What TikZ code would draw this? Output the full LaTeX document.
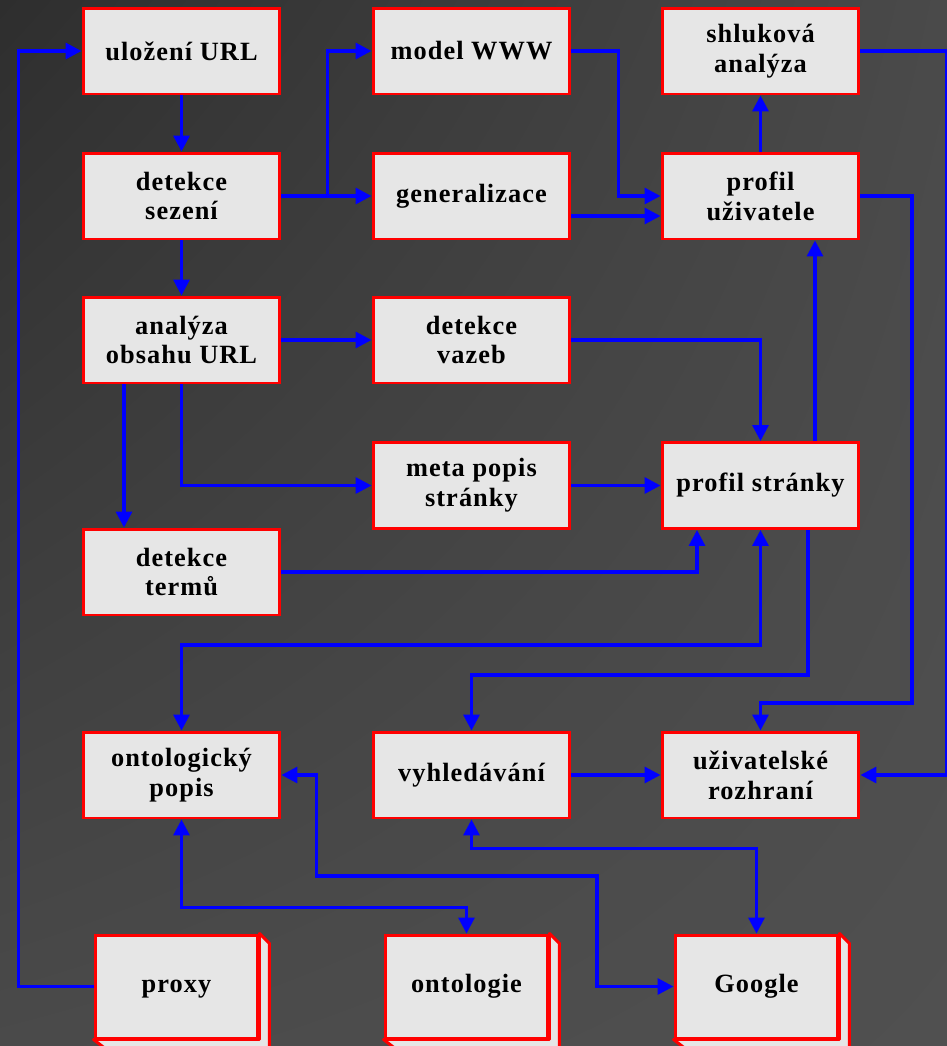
\documentclass[tikz,border=0pt]{standalone}
\usepackage{fontspec}
\setmainfont{Liberation Serif}[LetterSpace=4]
\usetikzlibrary{arrows.meta, positioning, calc, shadings}
\definecolor{boxgray}{RGB}{230,230,230}
\definecolor{bgtl}{RGB}{46,46,46}
\definecolor{bgtr}{RGB}{74,74,74}
\definecolor{bgbl}{RGB}{74,74,74}
\definecolor{bgbr}{RGB}{80,80,80}
\definecolor{linkblue}{RGB}{0,0,255}

\begin{document}
\begin{tikzpicture}[x=0.02cm, y=-0.02cm]
        \tikzstyle{box} = [rectangle, draw=red, line width=1.7pt, fill=boxgray, minimum width=3.94cm, minimum height=1.72cm, align=center, font=\fontsize{15}{17}\selectfont\bfseries]
        \tikzstyle{cube} = [box, minimum width=3.26cm, minimum height=2.06cm, text height=1.6ex, text depth=0pt]
        \tikzstyle{link} = [draw=linkblue, line width=1.8pt, -{Triangle[length=9pt,width=9pt]}]
        \tikzstyle{dlink} = [link, {Triangle[length=9pt,width=9pt]}-{Triangle[length=9pt,width=9pt]}]

        \useasboundingbox (0,0) rectangle (947,1046);
        \shade[upper left=bgtl, upper right=bgtr, lower left=bgbl, lower right=bgbr] (0,0) rectangle (947,1046);

        \node[box] (url) at (181.5,51) {uložení URL};
        \node[box] (model) at (471.5,51) {model WWW};
        \node[box] (shluk) at (760.5,51) {shluková\\analýza};

        \node[box] (sezeni) at (181.5,196) {detekce\\sezení};
        \node[box] (general) at (471.5,196) {generalizace};
        \node[box] (profilu) at (760.5,196) {profil\\uživatele};

        \node[box] (analyza) at (181.5,340) {analýza\\obsahu URL};
        \node[box] (vazby) at (471.5,340) {detekce\\vazeb};

        \node[box] (meta) at (471.5,485.5) {meta popis\\stránky};
        \node[box] (profils) at (760.5,485.5) {profil stránky};

        \node[box] (termy) at (181.5,572) {detekce\\termů};

        \node[box] (ontpopis) at (181.5,775) {ontologický\\popis};
        \node[box] (hledani) at (471.5,775) {vyhledávání};
        \node[box] (rozhrani) at (760.5,775) {uživatelské\\rozhraní};

        \node[cube] (proxy) at (176.5,986.5) {proxy};
        \node[cube] (ontologie) at (466.5,986.5) {ontologie};
        \node[cube] (google) at (756.5,986.5) {Google};

        \foreach \n in {proxy,ontologie,google}{
            \draw[draw=red, line width=1.7pt, fill=boxgray, line join=round]
                (\n.north east) -- ++(10,10) -- ($(\n.south east)+(10,10)$) -- ++(-163,0)
                -- (\n.south west) -- (\n.south east) -- cycle;
        }

        \draw[link] (proxy.west) -- ++(-75,0) |- (url.west);
        \draw[link] (url) -- (sezeni);
        \draw[link] (sezeni) -- (general);
        \draw[link] (sezeni.east) -- ++(46,0) |- (model.west);
        \draw[link] (sezeni) -- (analyza);
        \draw[link] (model.east) -- ++(47,0) |- (profilu.west);
        \draw[link] ([yshift=-0.4cm]general.east) -- ([yshift=-0.4cm]profilu.west);
        \draw[link] (profilu) -- (shluk);
        \draw[link] (shluk.east) -- ++(86,0) |- (rozhrani.east);
        \draw[link] (profilu.east) -| (912,703) -| (rozhrani.north);

        \draw[link] (analyza) -- (vazby);
        \draw[link] (vazby.east) -| (profils.north);
        \draw[link] ([xshift=1.09cm]profils.north) -- ([xshift=1.09cm]profilu.south);
        \draw[link] (analyza.south) |- (meta.west);
        \draw[link] ([xshift=-1.15cm]analyza.south) -- ([xshift=-1.15cm]analyza.south |- termy.north);
        \draw[link] (meta) -- (profils);
        \draw[link] (termy.east) -| ([xshift=-1.27cm]profils.south);

        \draw[dlink] (ontpopis.north) |- (760.5,645) -- (profils.south);
        \draw[link] ([xshift=0.95cm]profils.south) -- ++(0,145) -| (hledani.north);
        \draw[link] (hledani) -- (rozhrani);
        \draw[dlink] (hledani.south) -- ++(0,29) -| (google.north);
        \draw[dlink] (ontpopis.east) -- ++(35,0) |- (597,876) |- (google.west);
        \draw[dlink] (ontpopis.south) -- ++(0,88) -| (ontologie.north);

    \end{tikzpicture}
\end{document}
